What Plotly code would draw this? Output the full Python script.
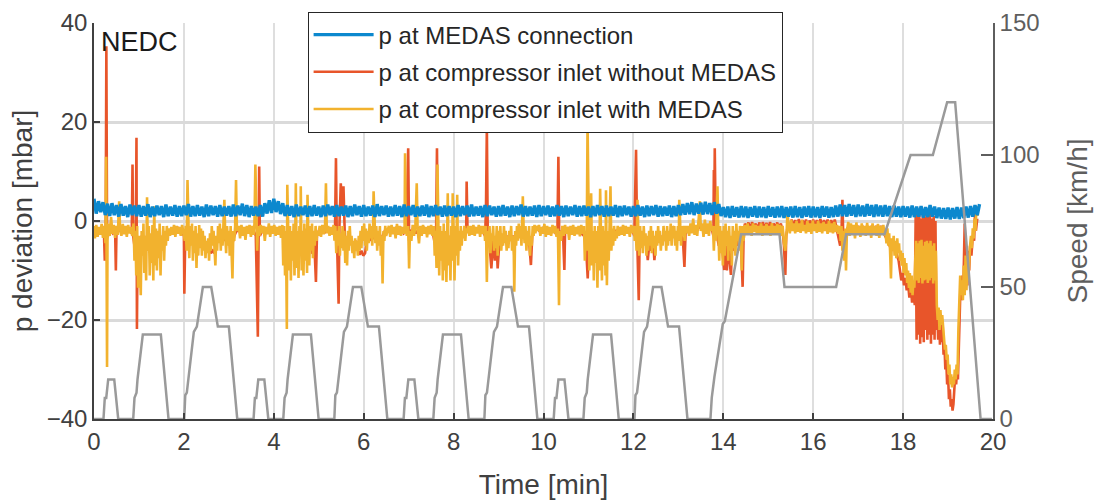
import plotly.graph_objects as go

# ---------------- data ----------------
# NEDC speed profile: (time [min], speed [km/h]) breakpoints
SPEED_PROFILE = [
    (0.0, 0), (0.211, 0), (0.240, 8), (0.272, 8), (0.316, 15), (0.450, 15), (0.539, 0),
    (0.872, 0), (0.901, 8), (0.946, 10), (0.968, 15), (1.086, 32), (1.487, 32), (1.658, 0),
    (2.008, 0), (2.030, 9), (2.065, 10), (2.221, 33), (2.288, 35), (2.422, 50), (2.608, 50),
    (2.755, 35), (3.000, 35), (3.187, 0),
    (3.550, 0), (3.579, 8), (3.611, 8), (3.655, 15), (3.789, 15), (3.878, 0),
    (4.211, 0), (4.240, 8), (4.285, 10), (4.307, 15), (4.425, 32), (4.826, 32), (4.997, 0),
    (5.347, 0), (5.369, 9), (5.404, 10), (5.560, 33), (5.627, 35), (5.761, 50), (5.947, 50),
    (6.094, 35), (6.339, 35), (6.526, 0),
    (6.888, 0), (6.917, 8), (6.949, 8), (6.993, 15), (7.127, 15), (7.216, 0),
    (7.549, 0), (7.578, 8), (7.623, 10), (7.645, 15), (7.763, 32), (8.164, 32), (8.335, 0),
    (8.685, 0), (8.707, 9), (8.742, 10), (8.898, 33), (8.965, 35), (9.099, 50), (9.285, 50),
    (9.432, 35), (9.677, 35), (9.864, 0),
    (10.227, 0), (10.256, 8), (10.288, 8), (10.332, 15), (10.466, 15), (10.555, 0),
    (10.888, 0), (10.917, 8), (10.962, 10), (10.984, 15), (11.102, 32), (11.503, 32), (11.674, 0),
    (12.024, 0), (12.046, 9), (12.081, 10), (12.237, 33), (12.304, 35), (12.438, 50), (12.624, 50),
    (12.771, 35), (13.016, 35), (13.203, 0),
    (13.714, 0), (13.743, 8), (13.803, 16), (13.988, 36), (14.033, 37), (14.396, 70),
    (15.250, 70), (15.361, 50), (16.510, 50), (16.733, 70), (17.587, 70), (18.166, 100),
    (18.662, 100), (18.980, 120), (19.158, 120), (19.724, 0), (19.976, 0),
]

# p at MEDAS connection [mbar], sampled every MEDAS_CONN_DT minutes from t = 0
MEDAS_CONN_DT = 0.05
P_MEDAS_CONN = [
    4.5, 1.5, 4.0, 1.8, 3.8, 1.2, 3.5, 1.0, 3.6, 1.2, 3.2, 0.9, 3.4, 1.1, 3.0, 0.8, 3.3, 1.2, 3.1, 1.0,
    3.2, 0.9, 3.0, 1.1, 3.4, 0.8, 2.9, 1.0, 3.1, 1.2, 3.0, 0.8, 3.3, 1.0, 2.9, 1.1, 3.2, 0.9, 3.0, 1.0,
    3.1, 1.2, 3.4, 0.9, 3.0, 1.0, 3.2, 1.1, 2.9, 0.8, 3.3, 1.0, 3.1, 1.2, 3.0, 0.9, 3.2, 1.0, 2.9, 1.1,
    3.0, 0.9, 3.3, 1.0, 3.1, 1.2, 3.5, 1.0, 3.2, 0.8, 3.0, 1.1, 2.9, 1.0, 3.2, 0.9, 3.6, 1.5, 4.2, 1.6,
    4.5, 1.8, 4.0, 1.4, 3.6, 1.0, 3.2, 1.1, 3.0, 0.8, 3.3, 1.0, 2.9, 1.2, 3.1, 0.9, 3.0, 1.0, 3.2, 1.1,
    2.9, 0.8, 3.1, 1.0, 3.3, 1.2, 3.0, 0.9, 3.2, 1.0, 2.9, 1.1, 3.1, 0.8, 3.0, 1.0, 3.3, 1.2, 3.0, 0.9,
    3.2, 1.0, 2.9, 1.1, 3.1, 0.8, 3.4, 1.0, 3.0, 1.2, 3.1, 0.9, 2.9, 1.0, 3.2, 1.1, 3.0, 0.8, 3.3, 1.0,
    3.0, 1.2, 3.2, 0.9, 2.9, 1.0, 3.1, 1.1, 3.3, 0.8, 3.0, 1.0, 3.2, 1.2, 2.9, 0.9, 3.1, 1.0, 3.0, 1.1,
    2.9, 0.8, 3.2, 1.0, 3.0, 1.2, 3.1, 0.9, 3.3, 1.0, 2.9, 1.1, 3.0, 0.8, 3.2, 1.0, 3.1, 1.2, 2.9, 0.9,
    3.0, 1.0, 3.2, 1.1, 2.9, 0.8, 3.1, 1.0, 3.0, 1.2, 3.3, 0.9, 3.0, 1.0, 2.9, 1.1, 3.1, 0.8, 3.2, 1.0,
    3.0, 1.2, 3.1, 0.9, 2.9, 1.0, 3.2, 1.1, 3.0, 0.8, 3.1, 1.0, 2.9, 1.2, 3.2, 0.9, 3.0, 1.0, 3.1, 1.1,
    2.9, 0.8, 3.0, 1.0, 3.2, 1.2, 3.0, 0.9, 3.1, 1.0, 2.9, 1.1, 3.2, 0.8, 3.0, 1.0, 3.1, 1.2, 2.9, 0.9,
    3.0, 1.0, 3.2, 1.1, 2.9, 0.8, 3.1, 1.0, 3.0, 1.2, 3.2, 0.9, 3.0, 1.0, 2.9, 1.1, 3.1, 0.8, 3.0, 1.0,
    3.2, 1.2, 3.4, 1.3, 3.6, 1.4, 3.8, 1.2, 3.5, 1.5, 3.7, 1.3, 3.9, 1.4, 3.6, 1.2, 3.8, 1.5, 3.4, 1.0,
    2.8, 0.8, 2.9, 0.6, 3.0, 0.9, 2.8, 0.7, 3.0, 0.8, 2.9, 0.6, 2.8, 0.9, 3.0, 0.7, 2.9, 0.8, 2.8, 0.6,
    3.0, 0.9, 2.8, 0.7, 2.9, 0.8, 3.0, 0.6, 2.8, 0.9, 2.9, 0.7, 3.0, 0.8, 2.8, 0.6, 2.9, 0.9, 3.0, 0.7,
    2.9, 0.8, 2.8, 0.6, 3.0, 0.9, 2.9, 0.7, 2.8, 0.8, 3.1, 0.9, 3.3, 1.0, 3.2, 0.9, 3.4, 1.1, 3.2, 0.8,
    3.3, 1.0, 3.1, 0.9, 3.4, 1.1, 3.2, 0.8, 3.3, 1.0, 3.1, 0.9, 3.2, 1.0, 3.0, 0.8, 3.1, 0.9, 2.9, 0.8,
    3.0, 0.9, 2.9, 0.7, 3.1, 0.8, 2.9, 0.9, 3.0, 0.7, 2.8, 0.8, 3.2, 0.9, 2.9, 0.6, 2.7, 0.5, 2.6, 0.4,
    2.7, 0.3, 2.6, 0.5, 2.8, 0.4, 2.7, 0.6, 2.9, 0.7, 3.0, 0.9, 3.2, 1.2, 3.4,
]

# p at compressor inlet without MEDAS: (time [min], mbar)
P_WITHOUT_MEDAS = [
    (0.00, -2.0), (0.06, -1.5), (0.12, -2.5), (0.18, -1.5), (0.22, -2.0), (0.24, -8.0), (0.26, -2.0),
    (0.275, 35.3), (0.29, -2.0), (0.32, -3.0), (0.36, -1.5), (0.42, -2.5), (0.47, -2.0), (0.486, -10.0),
    (0.50, -2.0), (0.56, -2.0), (0.62, -1.5), (0.68, -2.5), (0.74, -1.5), (0.80, -2.0), (0.84, -2.5),
    (0.857, 11.4), (0.87, -3.0), (0.90, -5.0), (0.93, -3.0), (0.945, 16.8), (0.955, -21.8), (0.97, -4.0),
    (1.01, -6.0), (1.05, -3.0), (1.09, -5.0), (1.13, -8.0), (1.17, -3.0), (1.21, -6.0), (1.25, -4.0),
    (1.29, -7.0), (1.33, -3.0), (1.37, -5.0), (1.41, -4.0), (1.45, -6.0), (1.49, -3.0), (1.53, -4.0),
    (1.57, -3.0), (1.61, -3.5), (1.65, -2.0), (1.71, -2.0), (1.77, -1.5), (1.83, -2.5), (1.89, -1.5),
    (1.95, -2.0), (2.00, -3.0), (2.01, -14.7), (2.03, -3.0), (2.07, -4.0), (2.12, -3.0), (2.17, -4.0),
    (2.22, -3.5), (2.27, -5.0), (2.32, -3.0), (2.37, -4.0), (2.42, -3.0), (2.47, -5.0), (2.52, -6.0),
    (2.56, -5.5), (2.60, -6.5), (2.64, -6.0), (2.68, -6.5), (2.72, -4.0), (2.77, -3.0), (2.82, -4.0),
    (2.87, -3.0), (2.92, -4.0), (2.97, -3.0), (3.02, -4.0), (3.07, -5.0), (3.12, -3.0), (3.17, -2.0),
    (3.23, -2.0), (3.29, -1.5), (3.35, -2.5), (3.41, -1.5), (3.47, -2.0), (3.53, -1.5), (3.60, -3.0),
    (3.645, -23.4), (3.66, -5.0), (3.675, 11.0), (3.69, -3.0), (3.74, -2.0), (3.80, -1.5), (3.86, -2.5),
    (3.92, -1.5), (3.98, -2.0), (4.04, -1.5), (4.10, -2.5), (4.16, -1.5), (4.21, -3.0), (4.25, -5.0),
    (4.29, -3.0), (4.33, -6.0), (4.37, -4.0), (4.41, -5.0), (4.45, -3.0), (4.49, -6.0), (4.53, -4.0),
    (4.57, -5.0), (4.61, -3.0), (4.65, -6.0), (4.69, -4.0), (4.73, -5.0), (4.77, -3.0), (4.81, -4.0),
    (4.86, -6.6), (4.90, -4.0), (4.937, -12.3), (4.96, -3.0), (5.00, -2.0), (5.06, -1.5), (5.12, -2.5),
    (5.18, -1.5), (5.24, -2.0), (5.30, -1.5), (5.36, -3.0), (5.383, 12.7), (5.40, -2.0), (5.442, -16.7),
    (5.46, -1.0), (5.49, 7.6), (5.52, 2.0), (5.55, 7.0), (5.58, -3.0), (5.63, -4.0), (5.68, -3.0),
    (5.73, -4.5), (5.78, -5.0), (5.83, -4.0), (5.87, -6.0), (5.91, -6.8), (5.95, -6.0), (5.99, -7.0),
    (6.03, -6.5), (6.07, -4.0), (6.12, -3.0), (6.17, -4.0), (6.22, -3.0), (6.27, -4.0), (6.32, -3.0),
    (6.37, -4.0), (6.42, -3.0), (6.47, -2.0),
    (6.53, -2.0), (6.59, -1.5), (6.65, -2.5), (6.71, -1.5), (6.77, -2.0), (6.83, -1.5), (6.89, -2.5),
    (6.95, -2.0), (6.99, 14.7), (7.01, -4.0), (7.05, -2.0), (7.11, -1.5), (7.17, -2.5), (7.23, -1.5),
    (7.29, -2.0), (7.35, -1.5), (7.41, -2.5), (7.47, -1.5), (7.53, -2.0), (7.57, -4.0), (7.61, -3.0),
    (7.63, 14.7), (7.65, -5.0), (7.69, -4.0), (7.72, -6.6), (7.76, -4.0), (7.80, -6.0), (7.84, -4.0),
    (7.88, -5.0), (7.92, -3.0), (7.96, -6.0), (8.00, -4.0), (8.04, -5.0), (8.08, -3.0), (8.12, -4.0),
    (8.16, -3.0), (8.22, -2.5), (8.28, -2.0), (8.29, 8.0), (8.31, -2.0), (8.36, -1.5), (8.42, -2.5),
    (8.48, -1.5), (8.54, -2.0), (8.60, -1.5), (8.66, -2.5), (8.70, -3.0), (8.72, 2.0), (8.74, 19.1),
    (8.76, -3.0), (8.80, -5.0), (8.84, -9.6), (8.88, -4.0), (8.92, -8.0), (8.96, -5.0), (8.98, -9.6),
    (9.02, -4.0), (9.07, -5.0), (9.12, -3.0), (9.17, -4.0), (9.22, -3.0), (9.27, -4.0), (9.32, -3.0),
    (9.37, -4.0), (9.42, -3.0), (9.47, -2.5), (9.52, -3.0), (9.57, -2.5), (9.62, -4.0), (9.67, -3.0),
    (9.72, -8.9), (9.75, -3.0), (9.80, -2.0), (9.85, -1.5),
    (9.91, -2.0), (9.97, -1.5), (10.03, -2.5), (10.09, -1.5), (10.15, -2.0), (10.21, -1.5), (10.27, -2.5),
    (10.31, -2.0), (10.331, 13.0), (10.35, -3.0), (10.40, -2.0), (10.44, -4.0), (10.464, -9.9), (10.48, -2.0),
    (10.54, -1.5), (10.60, -2.5), (10.66, -1.5), (10.72, -2.0), (10.78, -1.5), (10.84, -2.5), (10.90, -3.0),
    (10.94, -4.0), (10.984, -11.6), (11.01, -4.0), (11.05, -5.0), (11.09, -3.0), (11.13, -6.0), (11.17, -4.0),
    (11.21, -5.0), (11.25, -3.0), (11.29, -6.0), (11.33, -4.0), (11.37, -5.0), (11.41, -3.0), (11.45, -4.0),
    (11.50, -3.0), (11.55, -2.5), (11.60, -2.0), (11.66, -2.0), (11.72, -1.5), (11.78, -2.5), (11.84, -1.5),
    (11.90, -2.0), (11.96, -1.5), (12.02, -3.0), (12.059, 14.4), (12.08, -2.0), (12.119, -16.0), (12.14, -3.0),
    (12.19, -4.0), (12.24, -3.0), (12.29, -4.5), (12.32, -7.9), (12.36, -4.0), (12.40, -6.0), (12.44, -4.0),
    (12.467, -7.9), (12.50, -4.0), (12.55, -3.0), (12.60, -4.0), (12.65, -3.0), (12.70, -4.0), (12.75, -3.0),
    (12.80, -3.5), (12.85, -2.5), (12.90, -3.0), (12.95, -3.5), (13.00, -2.5), (13.05, -3.0), (13.10, -3.5),
    (13.135, -9.3), (13.16, -2.5), (13.20, -2.0),
    (13.26, -1.5), (13.32, -1.0), (13.38, -1.5), (13.44, -1.0), (13.50, -1.5), (13.56, -1.0), (13.62, -1.5),
    (13.68, -1.0), (13.74, -1.5), (13.78, -3.0), (13.79, 10.3), (13.80, 2.0), (13.81, 14.7), (13.83, 0.0),
    (13.86, -3.0), (13.90, -5.0), (13.94, -4.0), (13.98, -6.0), (14.02, -9.9), (14.05, -5.0), (14.08, -10.0),
    (14.11, -4.0), (14.14, -8.0), (14.17, -10.9), (14.20, -4.0), (14.24, -6.0), (14.28, -3.0), (14.32, -5.0),
    (14.36, -4.0), (14.40, -6.0), (14.43, -13.3), (14.45, -4.0), (14.48, -0.5), (14.52, -1.5), (14.56, -0.3),
    (14.60, -1.8), (14.64, -0.2), (14.68, -1.5), (14.72, -0.5), (14.76, -1.8), (14.80, -0.3), (14.84, -1.5),
    (14.88, -0.2), (14.92, -1.6), (14.96, -0.4), (15.00, -1.5), (15.04, -0.2), (15.08, -1.8), (15.12, -0.5),
    (15.16, -1.5), (15.20, -0.3), (15.24, -1.6), (15.28, -0.5), (15.32, -2.0), (15.35, -5.0), (15.38, -10.9),
    (15.40, -3.0), (15.44, -0.5), (15.48, -1.5), (15.52, 0.3), (15.56, -1.2), (15.60, 0.2), (15.64, -1.0),
    (15.68, 0.4), (15.72, -1.2), (15.76, 0.2), (15.80, -1.0), (15.84, 0.3), (15.88, -1.2), (15.92, 0.1),
    (15.96, -1.0), (16.00, 0.3), (16.04, -1.2), (16.08, 0.2), (16.12, -1.0), (16.16, 0.4), (16.20, -1.2),
    (16.24, 0.2), (16.28, -1.0), (16.32, 0.3), (16.36, -1.2), (16.40, 0.2), (16.44, -1.0), (16.48, 0.3),
    (16.52, -1.5), (16.56, -3.0), (16.60, -5.0), (16.63, -2.0), (16.65, 4.3), (16.67, -4.0), (16.70, -7.0),
    (16.73, -3.0), (16.76, -1.5), (16.80, -1.0), (16.85, -2.0), (16.90, -1.0), (16.95, -2.0), (17.00, -1.0),
    (17.05, -2.0), (17.10, -1.0), (17.15, -2.0), (17.20, -1.0), (17.25, -2.0), (17.30, -1.0), (17.35, -2.0),
    (17.40, -1.0), (17.45, -2.0), (17.50, -1.0), (17.55, -2.0), (17.60, -3.0), (17.65, -4.0), (17.70, -5.0),
    (17.75, -6.0), (17.80, -5.0), (17.85, -6.5), (17.90, -8.0), (17.93, -10.0), (17.96, -12.0), (17.99, -10.5),
    (18.02, -13.0), (18.05, -11.5), (18.08, -14.0), (18.11, -12.5), (18.14, -15.5), (18.17, -13.0),
    (18.20, -16.5), (18.23, -14.0), (18.26, -17.0), (18.28, 1.5), (18.30, -24.0), (18.32, 1.0), (18.34, -23.0),
    (18.36, 1.5), (18.38, -24.8), (18.40, 0.5), (18.42, -23.5), (18.44, 1.2), (18.46, -24.5), (18.48, 0.8),
    (18.50, -22.0), (18.52, 1.5), (18.54, -24.0), (18.56, 1.0), (18.58, -23.0), (18.60, 1.5), (18.62, -24.8),
    (18.64, 0.5), (18.66, -23.0), (18.68, 1.0), (18.70, -24.0), (18.72, 0.0), (18.74, -22.0), (18.76, -18.0),
    (18.78, -24.0), (18.80, -19.0), (18.82, -25.0), (18.84, -20.0), (18.86, -24.5), (18.88, -21.0),
    (18.90, -27.0), (18.92, -25.0), (18.94, -30.0), (18.96, -28.0), (18.98, -33.0), (19.00, -31.0),
    (19.02, -36.0), (19.04, -34.0), (19.06, -37.5), (19.08, -36.0), (19.10, -38.3), (19.12, -37.0),
    (19.14, -34.0), (19.16, -31.0), (19.18, -33.0), (19.20, -30.0), (19.22, -32.0), (19.24, -24.0),
    (19.26, -18.0), (19.28, -12.0), (19.30, -16.0), (19.32, -11.0), (19.34, -14.0), (19.36, -8.0),
    (19.37, -0.5), (19.39, -12.0), (19.41, -7.0), (19.43, -13.0), (19.45, -6.0), (19.47, -10.0),
    (19.49, -5.0), (19.52, -7.0), (19.55, -3.0), (19.58, -4.0), (19.60, 1.5), (19.62, -2.0), (19.65, 0.5),
]

# p at compressor inlet with MEDAS: (time [min], mbar)
P_WITH_MEDAS = [
    (0.00, -1.0), (0.02, -3.5), (0.05, -0.8), (0.08, -3.2), (0.11, -1.2), (0.14, -2.8), (0.17, -0.6),
    (0.20, -3.4), (0.23, -1.0), (0.255, -4.5), (0.27, 13.0), (0.28, -2.0), (0.29, -29.5), (0.30, -4.0),
    (0.32, -0.5), (0.35, -3.0), (0.38, 0.8), (0.41, -2.6), (0.44, -0.8), (0.47, -3.4), (0.50, -1.0),
    (0.53, -2.8), (0.56, 4.0), (0.58, -1.5), (0.61, -3.0), (0.64, -0.6), (0.67, -2.7), (0.70, -1.0),
    (0.73, -3.2), (0.76, -0.8), (0.79, -2.5), (0.82, -1.2), (0.85, -3.0),
    (0.88, -0.5), (0.90, -8.0), (0.92, -2.0), (0.94, -11.0), (0.96, -1.0), (0.98, -13.5), (1.00, -3.0),
    (1.02, -9.0), (1.04, -15.0), (1.06, -2.0), (1.08, -7.0), (1.10, -0.5), (1.12, -10.5), (1.14, -3.0),
    (1.16, -12.0), (1.18, 4.8), (1.20, -6.0), (1.22, -1.0), (1.24, -11.0), (1.26, -2.5), (1.28, -8.5),
    (1.30, -0.8), (1.32, -12.0), (1.34, 3.0), (1.36, -9.0), (1.38, -1.5), (1.40, -10.0), (1.42, -2.0),
    (1.44, -7.5), (1.46, -0.5), (1.48, -11.0), (1.50, -3.0), (1.52, -6.0), (1.54, -1.0), (1.56, -8.0),
    (1.58, -2.0), (1.60, -5.0), (1.62, -1.0), (1.64, -4.0), (1.66, -1.5),
    (1.69, -3.0), (1.72, -1.2), (1.75, -2.8), (1.78, -0.8), (1.81, -3.2), (1.84, -1.0), (1.87, -2.6),
    (1.90, -1.2), (1.93, -3.0), (1.96, -0.8), (1.99, -2.5),
    (2.02, -4.0), (2.04, -1.0), (2.06, -6.0), (2.08, 8.3), (2.10, -2.0), (2.12, -7.5), (2.14, -1.0),
    (2.16, -5.0), (2.18, -0.5), (2.20, -8.0), (2.22, -2.0), (2.24, -6.5), (2.26, -1.0), (2.28, -9.5),
    (2.30, -2.5), (2.32, -7.0), (2.34, -0.8), (2.36, -5.5), (2.38, -1.5), (2.40, -7.0), (2.42, -2.0),
    (2.44, -6.0), (2.46, -3.0), (2.48, -7.5), (2.50, -4.0), (2.52, -6.5), (2.54, -3.5), (2.56, -8.0),
    (2.58, -2.5), (2.60, -6.0), (2.62, -1.0), (2.64, -5.0), (2.66, -2.0), (2.68, -7.0), (2.70, -9.0),
    (2.72, -3.0), (2.74, -6.0), (2.76, -1.0), (2.78, -4.5), (2.80, -0.5), (2.82, -6.0), (2.84, -1.5),
    (2.86, -5.0), (2.88, -0.5), (2.90, 4.3), (2.92, -3.0), (2.94, -6.5), (2.96, -1.0), (2.98, -5.0),
    (3.00, -2.0), (3.02, -7.0), (3.04, -1.0), (3.06, -8.0), (3.08, -11.6), (3.10, -2.0), (3.12, -4.0),
    (3.14, -1.0), (3.16, 8.3), (3.18, -2.0),
    (3.22, -1.0), (3.25, -3.5), (3.28, -0.8), (3.31, -3.0), (3.34, -1.2), (3.37, -3.8), (3.40, -1.0),
    (3.43, -2.6), (3.46, -0.8), (3.49, -3.2), (3.52, -1.0), (3.55, -2.8), (3.57, -0.5), (3.59, 11.4),
    (3.61, -2.0), (3.63, -6.0), (3.65, -1.0), (3.68, -3.0), (3.71, -0.8), (3.74, -2.5), (3.77, -1.0),
    (3.80, -4.0), (3.83, -1.2), (3.86, -2.7), (3.89, -0.5), (3.92, -3.2), (3.95, -1.0), (3.98, -2.6),
    (4.01, -0.8), (4.04, -3.0), (4.07, -1.2), (4.10, -2.8), (4.13, -1.0), (4.16, -3.4), (4.19, -0.8),
    (4.21, -9.0), (4.23, -1.0), (4.25, -11.0), (4.27, -2.0), (4.29, -21.8), (4.30, 7.3), (4.32, -3.0),
    (4.34, -10.0), (4.36, -1.0), (4.38, -12.0), (4.40, -2.0), (4.42, -8.0), (4.44, -0.5), (4.46, -11.0),
    (4.48, -1.0), (4.49, 7.6), (4.51, -9.5), (4.53, -2.0), (4.55, -11.5), (4.57, -1.0), (4.59, -7.0),
    (4.60, 7.0), (4.62, -10.0), (4.64, -2.0), (4.66, -11.0), (4.68, -0.5), (4.70, -8.0), (4.72, -1.5),
    (4.74, -10.5), (4.75, 5.3), (4.77, -3.0), (4.79, -9.0), (4.81, -1.0), (4.83, -6.0), (4.85, -0.5),
    (4.87, -7.5), (4.89, -2.0), (4.91, -5.0), (4.93, -1.0), (4.95, -4.0), (4.97, -2.0), (4.99, -3.0),
    (5.02, -1.0), (5.05, -3.2), (5.08, -0.8), (5.11, -2.7), (5.14, -1.0), (5.16, 7.6), (5.18, -2.5),
    (5.21, -1.0), (5.24, -3.0), (5.27, -1.2), (5.30, -2.8), (5.33, -0.8),
    (5.35, -4.0), (5.37, -1.0), (5.39, -6.5), (5.41, -2.0), (5.43, -5.0), (5.45, -1.0), (5.47, -7.0),
    (5.49, -2.5), (5.51, -5.5), (5.53, -1.0), (5.55, -6.0), (5.57, -2.0), (5.59, -8.5), (5.61, -3.0),
    (5.63, -9.0), (5.65, -2.0), (5.67, -6.0), (5.69, -1.0), (5.71, -5.0), (5.73, -3.0), (5.75, -6.5),
    (5.77, -4.0), (5.79, -7.5), (5.81, -3.5), (5.83, -6.0), (5.85, -4.0), (5.87, -7.0), (5.89, -3.0),
    (5.91, -6.0), (5.93, -2.0), (5.95, -5.5), (5.97, -1.0), (5.99, -4.0), (6.01, -0.5), (6.03, -5.0),
    (6.05, -1.5), (6.07, -6.0), (6.09, -2.0), (6.11, -4.5), (6.13, -0.5), (6.15, -3.5), (6.17, -1.0),
    (6.19, -5.0), (6.21, -0.5), (6.22, 6.0), (6.24, -2.0), (6.26, -4.5), (6.28, -1.0), (6.30, -6.0),
    (6.32, -2.0), (6.34, -5.0), (6.36, -1.0), (6.38, -7.0), (6.40, -3.0), (6.42, -12.6), (6.44, -2.0),
    (6.46, -4.0), (6.48, -1.0), (6.50, -3.0),
    (6.56, -1.0), (6.59, -3.2), (6.62, -0.8), (6.65, -2.7), (6.68, -1.2), (6.71, -3.5), (6.74, -0.6),
    (6.77, -2.8), (6.80, -1.0), (6.83, -3.0), (6.86, -1.2), (6.89, -2.6), (6.91, -1.0), (6.92, 13.7),
    (6.935, -1.5), (6.96, -3.0), (6.99, -1.0), (7.01, -9.6), (7.03, -2.0), (7.06, -4.0), (7.09, -0.8),
    (7.12, -3.0), (7.15, -1.0), (7.18, 7.6), (7.20, -2.0), (7.23, -4.5), (7.26, -1.0), (7.29, -3.0),
    (7.32, -0.8), (7.35, -2.6), (7.38, -1.2), (7.41, -3.3), (7.44, -1.0), (7.47, -2.7), (7.50, -0.8),
    (7.53, -3.0),
    (7.56, -1.0), (7.58, -7.0), (7.60, -2.0), (7.62, -9.5), (7.64, 11.4), (7.66, -3.0), (7.68, -11.0),
    (7.70, -1.0), (7.72, -8.0), (7.74, -2.0), (7.76, -12.0), (7.78, -0.5), (7.80, -10.0), (7.82, -2.0),
    (7.84, -12.3), (7.86, -1.0), (7.87, 5.6), (7.89, -9.0), (7.91, -3.0), (7.93, -12.0), (7.95, -1.0),
    (7.97, -8.0), (7.98, 5.6), (8.00, -2.0), (8.02, -12.0), (8.04, -1.0), (8.06, -7.0), (8.08, 5.3),
    (8.10, -9.0), (8.12, -2.0), (8.14, -6.0), (8.16, -1.0), (8.18, -5.0), (8.20, -2.0), (8.22, -3.5),
    (8.24, -1.0), (8.26, -4.0), (8.28, -1.5), (8.30, -2.5), (8.32, -1.0),
    (8.35, -3.0), (8.38, -1.0), (8.41, -2.8), (8.44, -0.8), (8.47, -3.0), (8.50, -1.2), (8.53, -2.5),
    (8.56, -0.8), (8.59, -3.2), (8.62, -1.0), (8.65, -2.6), (8.68, -1.0),
    (8.70, -4.0), (8.72, -1.0), (8.74, -12.3), (8.76, -2.0), (8.78, -5.0), (8.80, -1.0), (8.82, -6.5),
    (8.84, -2.5), (8.86, -4.0), (8.88, -1.0), (8.90, -6.0), (8.92, -3.0), (8.94, -5.5), (8.96, -1.0),
    (8.98, -7.0), (9.00, -2.0), (9.02, -5.0), (9.04, -1.0), (9.06, -6.0), (9.08, -2.5), (9.10, -5.0),
    (9.12, -1.0), (9.14, -4.5), (9.16, -2.0), (9.18, -6.0), (9.20, -3.0), (9.22, -5.5), (9.24, -2.0),
    (9.26, -4.0), (9.28, -1.0), (9.30, -6.0), (9.32, -3.0), (9.34, -7.0), (9.35, -14.3), (9.37, -2.0),
    (9.39, -5.0), (9.41, -1.0), (9.43, -4.0), (9.45, -0.5), (9.47, -3.5), (9.49, -1.0), (9.51, -5.0),
    (9.53, -0.5), (9.54, 5.0), (9.56, -2.0), (9.58, -4.5), (9.60, -1.0), (9.62, -6.0), (9.64, -2.0),
    (9.66, -5.0), (9.68, -1.0), (9.70, -7.0), (9.72, -3.0), (9.74, -5.0), (9.76, -1.0), (9.78, -3.0),
    (9.80, -0.8), (9.82, -2.5), (9.84, -1.0),
    (9.87, -2.0), (9.90, -0.8), (9.93, -3.0), (9.96, -1.2), (9.99, -2.6), (10.02, -0.6), (10.05, -3.2),
    (10.08, -1.0), (10.11, -2.8), (10.14, -1.2), (10.17, -3.0), (10.20, -0.8), (10.23, -2.5), (10.26, -1.0),
    (10.29, -3.2), (10.32, -1.5), (10.345, -17.0), (10.36, -2.0), (10.39, -4.0), (10.42, -1.0), (10.45, -3.0),
    (10.48, -0.8), (10.51, -2.6), (10.54, -1.2), (10.57, -3.8), (10.60, -1.0), (10.63, -2.8), (10.66, -0.8),
    (10.69, -3.0), (10.72, -1.2), (10.75, -2.7), (10.78, -1.0), (10.81, -3.1), (10.84, -0.8), (10.87, -2.6),
    (10.90, -1.0), (10.92, -8.0), (10.94, -2.0), (10.96, -6.0), (10.98, 19.8), (11.00, -3.0), (11.02, -10.0),
    (11.04, -1.0), (11.06, 5.6), (11.08, -9.0), (11.10, -2.0), (11.12, -12.0), (11.14, -1.0), (11.16, -8.5),
    (11.18, -2.0), (11.20, -13.5), (11.22, -1.0), (11.24, -10.0), (11.26, 6.5), (11.28, -3.0), (11.30, -12.0),
    (11.32, -1.0), (11.34, -9.0), (11.36, -2.0), (11.38, -11.0), (11.39, 6.2), (11.41, -13.0), (11.43, -2.0),
    (11.45, -8.0), (11.47, -1.0), (11.49, 7.0), (11.51, -6.0), (11.53, -1.5), (11.55, -5.0), (11.57, -1.0),
    (11.59, -4.0), (11.61, -2.0), (11.63, -3.5), (11.65, -1.0),
    (11.68, -3.0), (11.71, -1.2), (11.74, -2.8), (11.77, -0.8), (11.80, -3.0), (11.83, -1.0), (11.86, -2.6),
    (11.89, -1.2), (11.92, -3.2), (11.95, -0.8), (11.98, -2.5), (12.01, -1.0),
    (12.03, -4.0), (12.05, -1.0), (12.07, -6.0), (12.09, 4.3), (12.11, -2.0), (12.13, -7.0), (12.15, -1.0),
    (12.17, -5.5), (12.19, -2.0), (12.21, -6.5), (12.23, -1.0), (12.25, -5.0), (12.27, -2.5), (12.29, -7.0),
    (12.31, -3.0), (12.33, -6.0), (12.35, -2.0), (12.37, -5.0), (12.39, -1.0), (12.41, -6.5), (12.43, -2.0),
    (12.45, -5.5), (12.47, -3.0), (12.49, -7.0), (12.51, -2.0), (12.53, -5.0), (12.55, -1.0), (12.57, -4.5),
    (12.59, -2.0), (12.61, -6.0), (12.63, -3.0), (12.65, -5.0), (12.67, -1.0), (12.69, -4.0), (12.71, -2.0),
    (12.73, -6.0), (12.75, -1.0), (12.77, -5.0), (12.79, -2.0), (12.81, -4.0), (12.83, -0.5), (12.85, -5.0),
    (12.87, -1.0), (12.89, -3.5), (12.91, -1.0), (12.93, -5.0), (12.95, -2.0), (12.97, -6.0), (12.99, -1.0),
    (13.01, -4.0), (13.02, 4.3), (13.04, -2.0), (13.06, -5.0), (13.08, -1.0), (13.10, -3.0), (13.12, -1.0),
    (13.14, -4.0), (13.16, -1.0), (13.18, -2.5),
    (13.21, -1.0), (13.24, -3.0), (13.27, -0.5), (13.30, -2.5), (13.33, 0.5), (13.36, -2.8), (13.39, -0.8),
    (13.42, -3.0), (13.45, 0.2), (13.48, 4.0), (13.50, -2.0), (13.53, -0.5), (13.56, -3.2), (13.59, 0.3),
    (13.62, -2.6), (13.65, -0.5), (13.68, -3.0), (13.71, 0.0), (13.74, -2.0),
    (13.77, -1.0), (13.79, -6.0), (13.81, -1.0), (13.83, -4.0), (13.85, 3.0), (13.87, 7.0), (13.89, -2.0),
    (13.91, -8.0), (13.93, -1.0), (13.95, -6.5), (13.97, -2.0), (13.99, -9.0), (14.01, -1.0), (14.03, -7.0),
    (14.05, -0.5), (14.07, -5.0), (14.09, -2.0), (14.11, -8.0), (14.13, -1.0), (14.15, -6.0), (14.17, -3.0),
    (14.19, -9.0), (14.21, -1.0), (14.23, -5.5), (14.25, -2.0), (14.27, -7.0), (14.29, -0.5), (14.31, -4.0),
    (14.33, -2.0), (14.35, -6.0), (14.37, -1.0), (14.39, -3.0), (14.41, -10.0), (14.43, -1.0), (14.45, -4.0),
    (14.48, -0.8), (14.51, -2.8), (14.54, -0.5), (14.57, -2.5), (14.60, -1.0), (14.63, -3.0), (14.66, -0.5),
    (14.69, -2.2), (14.72, -0.8), (14.75, -2.8), (14.78, -1.0), (14.81, -2.5), (14.84, -0.5), (14.87, -3.0),
    (14.90, -1.0), (14.93, -2.6), (14.96, -0.6), (14.99, -2.4), (15.02, -1.0), (15.05, -3.0), (15.08, -0.5),
    (15.11, -2.5), (15.14, -1.0), (15.17, -2.8), (15.20, -0.6), (15.23, -2.5), (15.26, -0.8), (15.29, -3.0),
    (15.32, -1.0), (15.35, -4.5), (15.38, -6.0), (15.41, -2.0), (15.43, 2.2), (15.45, -1.0),
    (15.48, -2.5), (15.51, 0.2), (15.54, -2.0), (15.57, -0.5), (15.60, -2.5), (15.63, 0.0), (15.66, -2.2),
    (15.69, -0.5), (15.72, -2.4), (15.75, 0.2), (15.78, -2.0), (15.81, -0.8), (15.84, -2.5), (15.87, 0.0),
    (15.90, -2.2), (15.93, -0.5), (15.96, -2.6), (15.99, 0.1), (16.02, -2.0), (16.05, -0.6), (16.08, -2.4),
    (16.11, 0.0), (16.14, -2.2), (16.17, -0.5), (16.20, -2.5), (16.23, -0.2), (16.26, -2.0), (16.29, -0.6),
    (16.32, -2.6), (16.35, 0.0), (16.38, -2.3), (16.41, -0.5), (16.44, -2.5), (16.47, -0.2), (16.50, -2.2),
    (16.53, -0.8), (16.56, -2.6), (16.59, -1.0),
    (16.61, -4.0), (16.63, -1.0), (16.65, -6.0), (16.67, -2.0), (16.69, -8.0), (16.71, -1.5), (16.73, -10.0),
    (16.75, -2.0),
    (16.78, -0.2), (16.81, -3.0), (16.84, -0.5), (16.87, -2.8), (16.90, -0.8), (16.93, -3.5), (16.96, -0.3),
    (16.99, -2.5), (17.02, -1.0), (17.05, -3.2), (17.08, -0.5), (17.11, -2.6), (17.14, -1.0), (17.17, -3.0),
    (17.20, -0.4), (17.23, -2.8), (17.26, -1.0), (17.29, -3.4), (17.32, -0.5), (17.35, -2.7), (17.38, -1.0),
    (17.41, -3.0), (17.44, -0.6), (17.47, -3.4), (17.50, -1.0), (17.53, -2.8), (17.56, -0.8), (17.59, -3.0),
    (17.61, -2.5), (17.63, -4.5), (17.65, -1.5), (17.67, -5.0), (17.69, -2.5), (17.71, -6.0), (17.73, -11.6),
    (17.75, -3.5), (17.77, -6.0), (17.79, -3.0), (17.81, -7.0), (17.83, -4.0), (17.85, -7.5), (17.87, -3.5),
    (17.89, -6.5), (17.91, -4.5), (17.93, -8.0), (17.95, -6.0),
    (17.97, -9.0), (17.99, -6.5), (18.01, -10.5), (18.03, -7.5), (18.05, -11.0), (18.07, -8.5), (18.09, -12.5),
    (18.11, -10.0), (18.13, -13.5), (18.15, -10.5), (18.17, -14.5), (18.19, -11.0), (18.21, -15.0),
    (18.23, -12.0), (18.25, -13.5), (18.27, -8.0),
    (18.29, -4.0), (18.31, -12.0), (18.33, -4.5), (18.35, -12.5), (18.37, -4.0), (18.39, -11.5), (18.41, -3.8),
    (18.43, -12.6), (18.45, -5.0), (18.47, -12.0), (18.49, -4.2), (18.51, -11.8), (18.53, -4.0), (18.55, -12.5),
    (18.57, -4.5), (18.59, -12.0), (18.61, -4.0), (18.63, -11.5), (18.65, -5.0), (18.67, -12.6), (18.69, -4.5),
    (18.71, -12.0), (18.73, -6.0),
    (18.75, -17.0), (18.77, -20.0), (18.79, -17.5), (18.81, -22.0), (18.83, -18.0), (18.85, -21.0),
    (18.87, -19.0), (18.89, -22.0), (18.91, -24.0), (18.93, -26.0), (18.95, -25.0), (18.97, -28.0),
    (18.99, -27.0), (19.01, -31.0), (19.03, -29.0), (19.05, -33.0), (19.07, -31.0), (19.09, -33.6),
    (19.11, -31.5), (19.13, -33.0), (19.15, -30.0), (19.17, -32.0), (19.19, -29.0), (19.21, -31.0),
    (19.23, -22.0), (19.25, -17.0), (19.27, -11.0), (19.29, -15.0), (19.31, -12.0), (19.33, -16.0),
    (19.35, -9.0), (19.37, -15.0), (19.39, -7.0), (19.41, -14.0), (19.43, -8.0), (19.45, -12.0),
    (19.47, -6.0), (19.49, -5.0), (19.51, -3.0), (19.53, -5.5), (19.55, -1.5), (19.57, -3.5), (19.59, 0.5),
    (19.61, -2.0), (19.63, 2.5), (19.65, 1.0), (19.66, 3.0),
]

X_TICKS = [0, 2, 4, 6, 8, 10, 12, 14, 16, 18, 20]
P_TICKS = [-40, -20, 0, 20, 40]
SPEED_TICKS = [0, 50, 100, 150]

SERIES_NAMES = [
    "p at MEDAS connection",
    "p at compressor inlet without MEDAS",
    "p at compressor inlet with MEDAS",
]

# ---------------- figure ----------------
C_BLUE = "#0C88CE"
C_ORANGE = "#E8552A"
C_YELLOW = "#F2B22E"
C_GRAY = "#9A9A9A"
FONT = "Liberation Sans, Arial, sans-serif"
DARK = "#404040"
RIGHT = "#5E5E5E"

fig = go.Figure()

fig.add_trace(go.Scatter(
    x=[p[0] for p in P_WITHOUT_MEDAS], y=[p[1] for p in P_WITHOUT_MEDAS],
    mode="lines", line=dict(color=C_ORANGE, width=2.6), name=SERIES_NAMES[1],
    legendrank=2, legendgroup="b",
))
fig.add_trace(go.Scatter(
    x=[p[0] for p in P_WITH_MEDAS], y=[p[1] for p in P_WITH_MEDAS],
    mode="lines", line=dict(color=C_YELLOW, width=2.6), name=SERIES_NAMES[2],
    legendrank=3, legendgroup="c",
))
fig.add_trace(go.Scatter(
    x=[i * MEDAS_CONN_DT for i in range(len(P_MEDAS_CONN))], y=P_MEDAS_CONN,
    mode="lines", line=dict(color=C_BLUE, width=3.4), name=SERIES_NAMES[0],
    legendrank=1, legendgroup="a",
))
fig.add_trace(go.Scatter(
    x=[p[0] for p in SPEED_PROFILE], y=[p[1] for p in SPEED_PROFILE],
    mode="lines", line=dict(color=C_GRAY, width=2.5), yaxis="y2", showlegend=False,
))

fig.update_layout(
    width=1094, height=501,
    margin=dict(l=94, r=101, t=23, b=82, pad=0, autoexpand=False),
    paper_bgcolor="white", plot_bgcolor="white",
    font=dict(family=FONT, size=24, color=DARK),
    showlegend=True,
    legend=dict(
        x=0.2376, y=1.029, xanchor="left", yanchor="top",
        bgcolor="white", bordercolor="#262626", borderwidth=1,
        font=dict(size=24, color="#262626"), tracegroupgap=3,
        itemwidth=60,
    ),
    xaxis=dict(
        range=[0, 20], tickvals=X_TICKS, ticks="inside", ticklen=6, tickwidth=1.5,
        tickcolor=DARK, showline=True, linecolor=DARK, linewidth=1.5,
        showgrid=True, gridcolor="#DEDEDE", gridwidth=1.5, zeroline=False,
        automargin=False,
        title=dict(text="Time [min]", font=dict(size=28, color=DARK), standoff=21),
        tickfont=dict(size=24, color=DARK),
    ),
    yaxis=dict(
        range=[-40, 40], tickvals=P_TICKS, ticks="inside", ticklen=6, tickwidth=1.5,
        tickcolor=DARK, showline=True, linecolor=DARK, linewidth=1.5,
        showgrid=True, gridcolor="#DADADA", gridwidth=3, zeroline=False,
        automargin=False,
        title=dict(text="p deviation [mbar]", font=dict(size=28, color=DARK), standoff=6),
        tickfont=dict(size=24, color=DARK),
    ),
    yaxis2=dict(
        range=[0, 150], tickvals=SPEED_TICKS, overlaying="y", side="right",
        ticks="inside", ticklen=12, tickwidth=1.5, tickcolor=RIGHT,
        showline=True, linecolor=RIGHT, linewidth=1.5, showgrid=False, zeroline=False,
        automargin=False,
        title=dict(text="Speed [km/h]", font=dict(size=28, color=RIGHT), standoff=29),
        tickfont=dict(size=24, color=RIGHT),
    ),
    annotations=[dict(
        text="NEDC", xref="paper", yref="paper", x=0.006, y=0.951,
        xanchor="left", yanchor="middle", showarrow=False,
        font=dict(size=27, color="#1a1a1a", family=FONT),
    )],
)

fig.write_html("out.html")
